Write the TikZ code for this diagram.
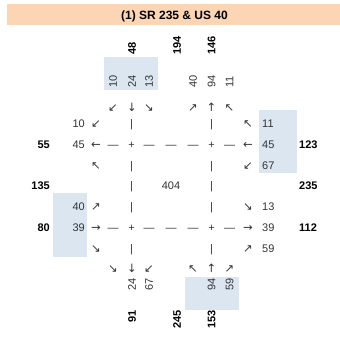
\documentclass[tikz,border=0pt]{standalone}
\usepackage{fontspec}
\setmainfont{Liberation Sans}
\newfontfamily\arrowfont{DejaVu Sans}
\usepackage{tikz}
\usepackage{xcolor}
\definecolor{Peach}{HTML}{FCD5B4}
\definecolor{Shade}{HTML}{DCE6F1}
\definecolor{Ink}{HTML}{333333}
\newcommand{\cellfont}{\fontsize{11bp}{13bp}\selectfont}
\newcommand{\glyphfont}{\arrowfont\fontsize{11.5bp}{13bp}\selectfont}

\begin{document}
\begin{tikzpicture}[
  x=1bp,y=-1bp,
  cell/.style={inner sep=0pt,text=Ink,font=\cellfont,anchor=base},
  tot/.style={inner sep=0pt,text=black,font=\cellfont\bfseries,anchor=base},
  arr/.style={inner sep=0pt,text=Ink,font=\glyphfont,anchor=base},
  upnum/.style={inner sep=0pt,text=Ink,font=\cellfont,rotate=90,anchor=west},
  downnum/.style={inner sep=0pt,text=Ink,font=\cellfont,rotate=90,anchor=east},
  uptot/.style={inner sep=0pt,text=black,font=\cellfont\bfseries,rotate=90,anchor=west},
  downtot/.style={inner sep=0pt,text=black,font=\cellfont\bfseries,rotate=90,anchor=east},
  band/.style={fill=Shade,draw=none}
]
\useasboundingbox (0,0) rectangle (340,342);
% header and shaded cells
\fill[Peach] (7,4) rectangle (340,25);
\fill[band] (104,57) rectangle (158,90);
\fill[band] (259,110) rectangle (297,173);
\fill[band] (53,193) rectangle (87,257);
\fill[band] (185,277) rectangle (239,310);
\node[tot,font=\fontsize{12bp}{14bp}\selectfont\bfseries] (title) at (174.5,19.8) {(1) SR 235 \& US 40};

% north leg
\node[uptot] (nTotIn) at (132,55) {48};
\node[uptot] (nTotMid) at (177,55) {194};
\node[uptot] (nTotOut) at (211.5,55) {146};
\node[upnum] (nRight) at (113,88) {10};
\node[upnum] (nThru) at (132,88) {24};
\node[upnum] (nLeft) at (149,88) {13};
\node[upnum] (nOutL) at (193,88) {40};
\node[upnum] (nOutT) at (211.5,88) {94};
\node[upnum] (nOutR) at (229.5,88) {11};
\node[arr] (nArrR) at (113,111) {↙};
\node[arr] (nArrT) at (132,111) {↓};
\node[arr] (nArrL) at (149,111) {↘};
\node[arr] (nArrOL) at (193,111) {↗};
\node[arr] (nArrOT) at (211.5,111) {↑};
\node[arr] (nArrOR) at (229.5,111) {↖};

% row 1
\node[cell,anchor=base east] (wOutR) at (85,127.5) {10};
\node[arr] (wArrOR) at (96,127.5) {↙};
\node[cell] (bar1a) at (131.5,127.5) {|};
\node[cell] (bar1b) at (211.5,127.5) {|};
\node[arr] (eArrL) at (248,127.5) {↖};
\node[cell,anchor=base west] (eLeft) at (262,127.5) {11};

% row 2
\node[tot,anchor=base east] (wTotOut) at (50,148.3) {55};
\node[cell,anchor=base east] (wOutT) at (85,148.3) {45};
\node[arr] (wArrOT) at (96,148.3) {←};
\node[cell] (dash2a) at (113,148.3) {—};
\node[cell] (plus2a) at (131.5,148.3) {+};
\node[cell] (dash2b) at (149,148.3) {—};
\node[cell] (dash2c) at (171,148.3) {—};
\node[cell] (dash2d) at (193,148.3) {—};
\node[cell] (plus2b) at (211.5,148.3) {+};
\node[cell] (dash2e) at (229.5,148.3) {—};
\node[arr] (eArrT) at (248,148.3) {←};
\node[cell,anchor=base west] (eThru) at (262,148.3) {45};
\node[tot,anchor=base west] (eTotIn) at (299,148.3) {123};

% row 3
\node[arr] (wArrOL) at (96,169.1) {↖};
\node[cell] (bar3a) at (131.5,169.1) {|};
\node[cell] (bar3b) at (211.5,169.1) {|};
\node[arr] (eArrR) at (248,169.1) {↙};
\node[cell,anchor=base west] (eRight) at (262,169.1) {67};

% row 4
\node[tot,anchor=base east] (wTotMid) at (50,189.9) {135};
\node[cell] (bar4a) at (131.5,189.9) {|};
\node[cell] (total) at (171,189.9) {404};
\node[cell] (bar4b) at (211.5,189.9) {|};
\node[tot,anchor=base west] (eTotMid) at (299,189.9) {235};

% row 5
\node[cell,anchor=base east] (wLeft) at (85,210.7) {40};
\node[arr] (wArrL) at (96,210.7) {↗};
\node[cell] (bar5a) at (131.5,210.7) {|};
\node[cell] (bar5b) at (211.5,210.7) {|};
\node[arr] (eArrOL) at (248,210.7) {↘};
\node[cell,anchor=base west] (eOutL) at (262,210.7) {13};

% row 6
\node[tot,anchor=base east] (wTotIn) at (50,231.5) {80};
\node[cell,anchor=base east] (wThru) at (85,231.5) {39};
\node[arr] (wArrT) at (96,231.5) {→};
\node[cell] (dash6a) at (113,231.5) {—};
\node[cell] (plus6a) at (131.5,231.5) {+};
\node[cell] (dash6b) at (149,231.5) {—};
\node[cell] (dash6c) at (171,231.5) {—};
\node[cell] (dash6d) at (193,231.5) {—};
\node[cell] (plus6b) at (211.5,231.5) {+};
\node[cell] (dash6e) at (229.5,231.5) {—};
\node[arr] (eArrOT) at (248,231.5) {→};
\node[cell,anchor=base west] (eOutT) at (262,231.5) {39};
\node[tot,anchor=base west] (eTotOut) at (299,231.5) {112};

% row 7
\node[arr] (wArrR) at (96,252.3) {↘};
\node[cell] (bar7a) at (131.5,252.3) {|};
\node[cell] (bar7b) at (211.5,252.3) {|};
\node[arr] (eArrOR) at (248,252.3) {↗};
\node[cell,anchor=base west] (eOutR) at (262,252.3) {59};

% south leg
\node[arr] (sArrOR) at (113,272.5) {↘};
\node[arr] (sArrOT) at (132,272.5) {↓};
\node[arr] (sArrOL) at (149,272.5) {↙};
\node[arr] (sArrL) at (193,272.5) {↖};
\node[arr] (sArrT) at (211.5,272.5) {↑};
\node[arr] (sArrR) at (229.5,272.5) {↗};
\node[downnum] (sOutT) at (132,278) {24};
\node[downnum] (sOutL) at (149,278) {67};
\node[downnum] (sThru) at (211.5,278) {94};
\node[downnum] (sRight) at (229.5,278) {59};
\node[downtot] (sTotOut) at (132,310) {91};
\node[downtot] (sTotMid) at (177,310) {245};
\node[downtot] (sTotIn) at (211.5,310) {153};
\end{tikzpicture}
\end{document}
